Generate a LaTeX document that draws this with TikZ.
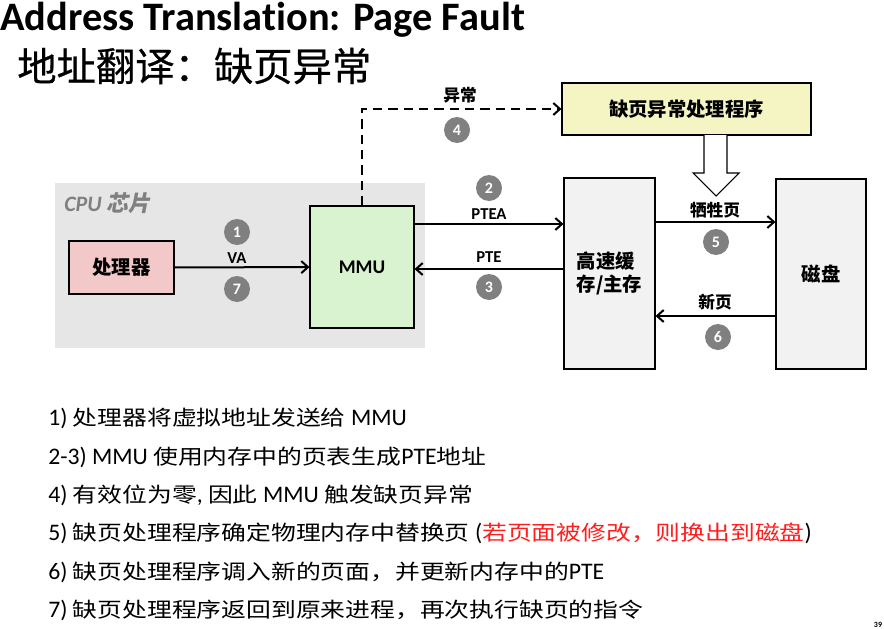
\documentclass[tikz,border=0pt]{standalone}
\usepackage{fontspec}
\setmainfont{Carlito}[Ligatures={NoCommon}]
\newfontfamily\cjk{Noto Sans CJK SC}
\newfontfamily\cjkheavy[FakeBold=0.6]{Noto Sans CJK SC}
\newfontfamily\cjkwide[FakeStretch=1.2]{Noto Sans CJK SC}
\newfontfamily\cjkslant[FakeSlant=0.2]{Noto Sans CJK SC}
\usetikzlibrary{calc, arrows.meta}
\usepackage{xcolor}
\definecolor{chipgray}{RGB}{230, 230, 230}
\definecolor{procpink}{RGB}{242, 200, 200}
\definecolor{mmugreen}{RGB}{217, 242, 208}
\definecolor{handleryellow}{RGB}{245, 245, 195}
\definecolor{memgray}{RGB}{242, 242, 242}
\definecolor{numgray}{RGB}{128, 128, 128}
\definecolor{notered}{RGB}{255, 30, 30}
% CJK text at list size
\newcommand{\zh}[1]{{\cjkwide\fontsize{15.5}{22}\selectfont #1}}

\begin{document}
\begin{tikzpicture}[x=0.75pt, y=-0.75pt, >={Straight Barb[length=5pt, width=9pt]},
  box/.style={draw, line width=0.8pt, inner sep=0pt, font=\bfseries\fontsize{14.5}{17}\selectfont},
  numc/.style={circle, fill=numgray, text=white, minimum size=19.5pt, inner sep=0pt, font=\bfseries\fontsize{12}{12}\selectfont},
  lbl/.style={font=\bfseries\fontsize{12.5}{14}\selectfont},
  link/.style={->, line width=1.5pt},
  note/.style={anchor=west, inner sep=0pt, font=\fontsize{17.8}{20}\selectfont}]
  \useasboundingbox (0,0) rectangle (884,628);

  % Titles
  \node[anchor=base west, inner sep=0pt, font=\bfseries\fontsize{30.3}{31}\selectfont] (title) at (0,30) {Address Translation: Page Fault};
  \node[anchor=west, inner sep=0pt, font=\cjkheavy\fontsize{29.5}{30}\selectfont] (subtitle) at (17,66) {地址翻译：缺页异常};

  % CPU chip
  \node[fill=chipgray, minimum width=277.5pt, minimum height=123.75pt, inner sep=0pt] (chip) at (240,265.5) {};
  \node[anchor=west, inner sep=0pt, text=numgray, font=\bfseries\itshape\fontsize{16.5}{17}\selectfont] (chiplbl) at (64,203) {CPU {\cjkslant 芯片}};
  \node[box, fill=procpink, minimum width=78.75pt, minimum height=39.75pt] (proc) at (121.5,267.5) {\cjk 处理器};
  \node[box, fill=mmugreen, minimum width=78pt, minimum height=91.5pt] (mmu) at (362,267) {MMU};

  % Memory side
  \node[box, fill=handleryellow, minimum width=186.75pt, minimum height=39pt] (handler) at (686.5,109) {\cjk 缺页异常处理程序};
  \node[box, fill=memgray, minimum width=68.25pt, minimum height=143.25pt, align=left] (mem) at (609.5,273.5) {\cjk 高速缓\\\cjk 存/主存};
  \node[box, fill=memgray, minimum width=67.5pt, minimum height=142.5pt] (disk) at (821,274) {\cjk 磁盘};

  % connectors
  \coordinate (ptea) at (0,224);
  \coordinate (pte) at (0,269);
  \coordinate (victim) at (0,222);
  \coordinate (newpg) at (0,316);
  \draw[link] (proc) -- (mmu);
  \draw[link] (mmu.east |- ptea) -- (mem.west |- ptea);
  \draw[link] (mem.west |- pte) -- (mmu.east |- pte);
  \draw[link] (mem.east |- victim) -- (disk.west |- victim);
  \draw[link] (disk.west |- newpg) -- (mem.east |- newpg);
  \draw[link, dash pattern=on 7pt off 4.5pt] (mmu.north) |- (handler.west);
  \draw[line width=0.8pt, fill=white] (704,135) -- (704,173) -- (693,173) -- (716,196) -- (739,173) -- (727,173) -- (727,135);

  % labels and steps
  \node[lbl] (va) at (237,258) {VA};
  \node[numc] (s1) at (237,232) {1};
  \node[numc] (s7) at (237,289) {7};
  \node[lbl, font=\cjk\bfseries\fontsize{12.5}{14}\selectfont] (exc) at (460,95) {异常};
  \node[numc] (s4) at (457,130) {4};
  \node[lbl] (ptealbl) at (489,214) {PTEA};
  \node[numc] (s2) at (489,188) {2};
  \node[lbl] (ptelbl) at (489,257) {PTE};
  \node[numc] (s3) at (489,287) {3};
  \node[lbl, font=\cjk\bfseries\fontsize{12.5}{14}\selectfont] (victimlbl) at (715,210) {牺牲页};
  \node[numc] (s5) at (716,242) {5};
  \node[lbl, font=\cjk\bfseries\fontsize{12.5}{14}\selectfont] (newlbl) at (715,302) {新页};
  \node[numc] (s6) at (718,337) {6};

  % notes
  \node[note] (n1) at (48,418) {1) \zh{处理器将虚拟地址发送给} MMU};
  \node[note] (n2) at (48,457) {2-3) MMU \zh{使用内存中的页表生成}PTE\zh{地址}};
  \node[note] (n3) at (48,495) {4) \zh{有效位为零}, \zh{因此} MMU \zh{触发缺页异常}};
  \node[note] (n4) at (48,533) {5) \zh{缺页处理程序确定物理内存中替换页} (\textcolor{notered}{\zh{若页面被修改，则换出到磁盘}})};
  \node[note] (n5) at (48,572) {6) \zh{缺页处理程序调入新的页面，并更新内存中的}PTE};
  \node[note] (n6) at (48,610) {7) \zh{缺页处理程序返回到原来进程，再次执行缺页的指令}};
  \node[anchor=north, inner sep=0pt, font=\bfseries\fontsize{6}{6}\selectfont] (pageno) at (878,622) {39};
\end{tikzpicture}
\end{document}
